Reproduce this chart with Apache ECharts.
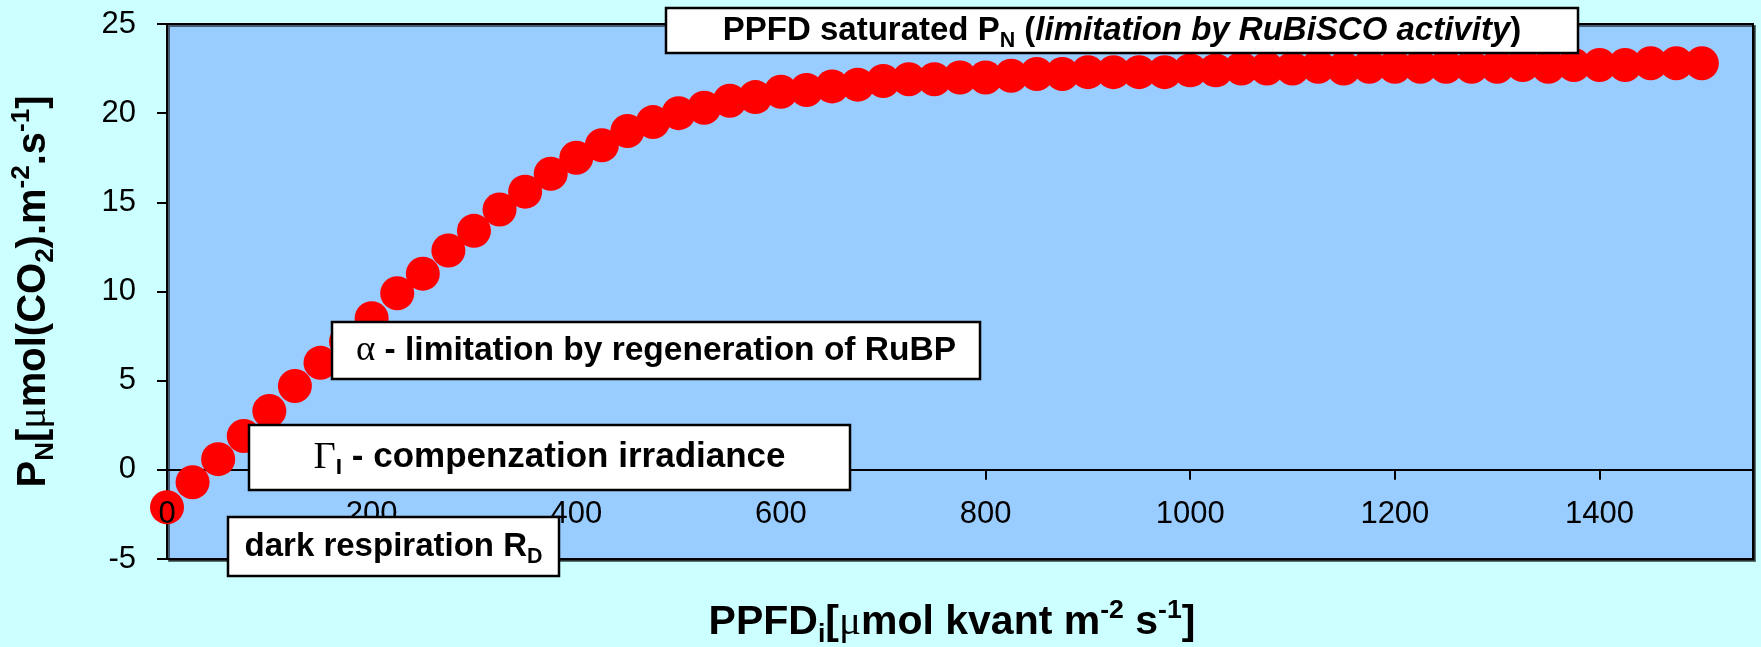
<!DOCTYPE html>
<html>
<head>
<meta charset="utf-8">
<title>Light response curve</title>
<script src="https://cdn.jsdelivr.net/npm/echarts@6/dist/echarts.min.js"></script>
<style>
  html, body { margin: 0; padding: 0; background: #CCFFFF; }
  #chart { width: 1761px; height: 647px; }
</style>
</head>
<body>
<div id="chart"></div>
<script>
  // PPFD steps and net photosynthesis
  const ppfd = [
    0, 25, 50, 75, 100, 125, 150, 175, 200, 225,
    250, 275, 300, 325, 350, 375, 400, 425, 450, 475,
    500, 525, 550, 575, 600, 625, 650, 675, 700, 725,
    750, 775, 800, 825, 850, 875, 900, 925, 950, 975,
    1000, 1025, 1050, 1075, 1100, 1125, 1150, 1175, 1200, 1225,
    1250, 1275, 1300, 1325, 1350, 1375, 1400, 1425, 1450, 1475,
    1500
  ];
  const pn = [
    -2.1, -0.7, 0.6, 1.9, 3.3, 4.7, 6.0, 7.2, 8.5, 9.9,
    11.0, 12.3, 13.4, 14.6, 15.6, 16.6, 17.5, 18.2, 19.0, 19.5,
    20.0, 20.3, 20.7, 20.9, 21.2, 21.3, 21.5, 21.6, 21.8, 21.9,
    21.9, 22.0, 22.0, 22.1, 22.2, 22.2, 22.3, 22.3, 22.3, 22.3,
    22.4, 22.4, 22.5, 22.5, 22.5, 22.6, 22.5, 22.6, 22.6, 22.6,
    22.6, 22.6, 22.6, 22.7, 22.6, 22.7, 22.7, 22.7, 22.8, 22.8,
    22.8
  ];
  const xTicks = [0, 200, 400, 600, 800, 1000, 1200, 1400];
  const yTicks = [-5, 0, 5, 10, 15, 20, 25];

  const font = "Liberation Sans";
  const serif = "Liberation Serif";

  // rich styles shared by axis titles and the note boxes
  const makeRich = (size) => ({
    b: { fontFamily: font, fontWeight: "bold", fontSize: size, lineHeight: size * 1.25, color: "#000", fill: "#000" },
    bi: { fontFamily: font, fontWeight: "bold", fontStyle: "italic", fontSize: size, lineHeight: size * 1.25, color: "#000", fill: "#000" },
    sub: { fontFamily: font, fontWeight: "bold", fontSize: size * 0.65, lineHeight: size * 0.65, verticalAlign: "bottom", color: "#000", fill: "#000" },
    sup: { fontFamily: font, fontWeight: "bold", fontSize: size * 0.65, lineHeight: size * 0.65, verticalAlign: "top", color: "#000", fill: "#000" },
    g: { fontFamily: serif, fontSize: size * 1.1, lineHeight: size * 1.25, color: "#000", fill: "#000" },
    mu: { fontFamily: serif, fontSize: size, lineHeight: size * 1.25, color: "#000", fill: "#000" },
  });

  const titleRich = makeRich(40);

  // white note box drawn over the points
  const noteBox = (left, top, w, h, size, text) => ({
    type: "group",
    x: left,
    y: top,
    children: [
      {
        type: "rect",
        z: 100,
        shape: { x: 0, y: 0, width: w, height: h },
        style: { fill: "#fff", stroke: "#000", lineWidth: 2.5 },
      },
      {
        type: "text",
        z: 101,
        x: w / 2,
        y: h / 2,
        style: { text, rich: makeRich(size), align: "center", verticalAlign: "middle", fill: "#000" },
      },
    ],
  });

  const axisLineStyle = { color: "#000", width: 2 };
  const tickLabel = { fontFamily: font, fontSize: 31, color: "#000" };

  const chart = echarts.init(document.getElementById("chart"));

  const option = {
    backgroundColor: "#CCFFFF",
    animation: false,
    grid: {
      left: 167,
      right: 8,
      top: 24,
      bottom: 88,
      show: true,
      backgroundColor: "#99CCFF",
      borderColor: "#000",
      borderWidth: 2,
      shadowColor: "rgba(0,0,0,0.55)",
      shadowOffsetX: 2,
      shadowOffsetY: 2,
      outerBoundsMode: "none",
    },
    xAxis: [
      {
        type: "value",
        min: 0,
        max: 1550,
        interval: 200,
        axisLine: { onZero: true, lineStyle: axisLineStyle },
        axisTick: { length: 10, lineStyle: axisLineStyle },
        axisLabel: { show: false },
        splitLine: { show: false },
      },
      {
        // labels only, drawn above the points like the original
        type: "value",
        min: 0,
        max: 1550,
        interval: 200,
        position: "bottom",
        offset: -89,
        z: 3,
        axisLine: { show: false, onZero: false },
        axisTick: { show: false },
        splitLine: { show: false },
        axisLabel: {
          ...tickLabel,
          margin: 29,
          formatter: v => (xTicks.includes(v) ? String(v) : ""),
        },
      },
    ],
    yAxis: {
      type: "value",
      min: -5,
      max: 25,
      interval: 5,
      axisLine: { show: true, onZero: false, lineStyle: axisLineStyle },
      axisTick: { show: true, length: 10, lineStyle: axisLineStyle },
      axisLabel: {
        ...tickLabel,
        margin: 31,
        formatter: v => (yTicks.includes(v) ? String(v) : ""),
      },
      splitLine: { show: false },
      name: "{b|P}{sub|N}{b|[}{mu|μ}{b|mol(CO}{sub|2}{b|).m}{sup|-2}{b|.s}{sup|-1}{b|]}",
      nameLocation: "middle",
      nameRotate: 90,
      nameGap: 108,
      nameTextStyle: { rich: titleRich },
    },
    series: [
      {
        type: "scatter",
        xAxisIndex: 0,
        data: ppfd.map((x, i) => [x, pn[i]]),
        symbol: "circle",
        symbolSize: 34,
        itemStyle: { color: "#FF0000", opacity: 1 },
      },
    ],
    graphic: [
      {
        type: "text",
        x: 952,
        y: 623,
        z: 100,
        style: {
          text: "{b|PPFD}{sub|i}{b|[}{mu|μ}{b|mol kvant m}{sup|-2}{b| s}{sup|-1}{b|]}",
          rich: makeRich(41),
          align: "center",
          verticalAlign: "middle",
          fill: "#000",
        },
      },
      noteBox(666, 8, 912, 45, 33, "{b|PPFD saturated P}{sub|N}{b| (}{bi|limitation by RuBiSCO activity}{b|)}"),
      noteBox(332, 322, 648, 57, 33.5, "{g|α}{b| - limitation by regeneration of RuBP}"),
      noteBox(249, 425, 601, 65, 35, "{g|Γ}{sub|I}{b| - compenzation irradiance}"),
      noteBox(228, 517, 331, 59, 33, "{b|dark respiration R}{sub|D}"),
    ],
  };

  chart.setOption(option);
</script>
</body>
</html>
